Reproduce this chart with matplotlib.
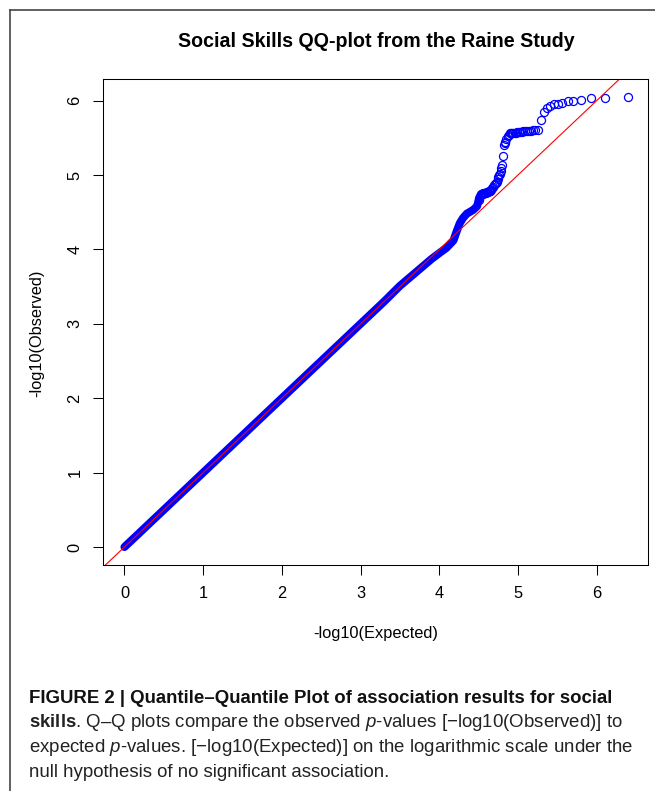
import matplotlib
matplotlib.use("Agg")
import matplotlib.pyplot as plt
from matplotlib.lines import Line2D

plt.rcParams['font.family'] = ['Liberation Sans', 'DejaVu Sans']
plt.rcParams['mathtext.fontset'] = 'custom'
plt.rcParams['mathtext.rm'] = 'Liberation Sans'
plt.rcParams['mathtext.it'] = 'Liberation Sans:italic'
plt.rcParams['mathtext.bf'] = 'Liberation Sans:bold'

# dense part of the QQ points, read along the centre of the blue band
bulk_exp = [0.0, 0.5, 1.0, 1.5, 2.0, 2.5, 3.0, 3.3, 3.5, 3.7, 3.9, 4.0,
            4.09, 4.18, 4.22, 4.26, 4.30, 4.35, 4.43, 4.48, 4.50]
bulk_obs = [0.0, 0.5, 1.0, 1.5, 2.0, 2.5, 3.0, 3.3, 3.51, 3.69, 3.87, 3.95,
            4.02, 4.12, 4.24, 4.35, 4.42, 4.48, 4.53, 4.58, 4.66]

# sparse upper tail, one entry per visible circle
tail_exp = [6.40, 6.11, 5.93, 5.80, 5.70, 5.63, 5.56, 5.51, 5.46, 5.41, 5.37, 5.33, 5.29,
            5.25, 5.22, 5.19, 5.16, 5.14, 5.11, 5.09, 5.07, 5.05, 5.03, 5.01, 4.99, 4.98,
            4.96, 4.94, 4.93, 4.91, 4.90, 4.88,
            4.87, 4.85, 4.84, 4.83, 4.82, 4.81, 4.80, 4.79, 4.78, 4.77, 4.76, 4.75, 4.74,
            4.73, 4.72, 4.71, 4.69, 4.68, 4.67,
            4.66, 4.65, 4.64, 4.63, 4.62, 4.61, 4.60, 4.59, 4.58, 4.57, 4.56, 4.55, 4.54,
            4.53, 4.52, 4.51, 4.50]
tail_obs = [6.05, 6.03, 6.03, 6.01, 5.99, 5.99, 5.97, 5.96, 5.95, 5.93, 5.90, 5.85, 5.74,
            5.60, 5.60, 5.60, 5.59, 5.59, 5.59, 5.59, 5.59, 5.58, 5.58, 5.58, 5.58, 5.57,
            5.57, 5.57, 5.57, 5.56, 5.56, 5.54,
            5.52, 5.49, 5.45, 5.43, 5.40, 5.25, 5.13, 5.09, 5.06, 5.02, 5.00, 4.97, 4.94,
            4.91, 4.89, 4.88, 4.86, 4.84, 4.82,
            4.80, 4.79, 4.78, 4.78, 4.77, 4.77, 4.77, 4.76, 4.76, 4.76, 4.76, 4.75, 4.75,
            4.74, 4.72, 4.69, 4.66]

ticks = [0, 1, 2, 3, 4, 5, 6]

fig = plt.figure(figsize=(6.55, 7.91), dpi=100)
ax = fig.add_axes([0.1577, 0.2857, 0.8321, 0.6144])

ax.plot(bulk_exp, bulk_obs, color='blue', lw=5.8, solid_capstyle='round',
        solid_joinstyle='round')
ax.plot(tail_exp, tail_obs, 'o', mfc='none', mec='blue', ms=5.8, mew=0.9)
ax.axline((0, 0), slope=1, color='red', lw=0.8)

ax.set_xlim(-0.269, 6.656)
ax.set_ylim(-0.242, 6.29)
ax.set_xticks(ticks)
ax.set_yticks(ticks)
ax.tick_params(direction='out', length=7, width=0.75, labelsize=11.75, pad=8)
for lab in ax.get_yticklabels():
    lab.set_rotation(90)
    lab.set_va('center')
for s in ax.spines.values():
    s.set_linewidth(0.75)

fig.text(0.574, 0.947, "Social Skills QQ-plot from the Raine Study",
         ha='center', va='center', fontsize=14.1, fontweight='bold')
fig.text(0.574, 0.1997, "-log10(Expected)", ha='center', va='center', fontsize=11.75)
fig.text(0.0565, 0.579, "-log10(Observed)", ha='center', va='center',
         fontsize=11.75, rotation=90)

# frame round the figure panel
fig.add_artist(Line2D([0.0153, 1.0], [0.9874, 0.9874], color='#444444', lw=1.2))
fig.add_artist(Line2D([0.0153, 0.0153], [0.0, 0.9874], color='#444444', lw=1.2))

# caption
cx = 0.0437
cap_size = 13.4
fig.text(cx, 0.1175, "FIGURE 2 | Quantile–Quantile Plot of association results for social",
         ha='left', va='center', fontsize=cap_size, fontweight='bold', color='#111111')
fig.text(cx, 0.0860,
         r"$\mathbf{skills}$. Q–Q plots compare the observed $\mathit{p}$-values [−log10(Observed)] to",
         ha='left', va='center', fontsize=cap_size, color='#222222')
fig.text(cx, 0.0545,
         r"expected $\mathit{p}$-values. [−log10(Expected)] on the logarithmic scale under the",
         ha='left', va='center', fontsize=cap_size, color='#222222')
fig.text(cx, 0.0240, "null hypothesis of no significant association.",
         ha='left', va='center', fontsize=cap_size, color='#222222')

fig.savefig("out.png", dpi=100)
